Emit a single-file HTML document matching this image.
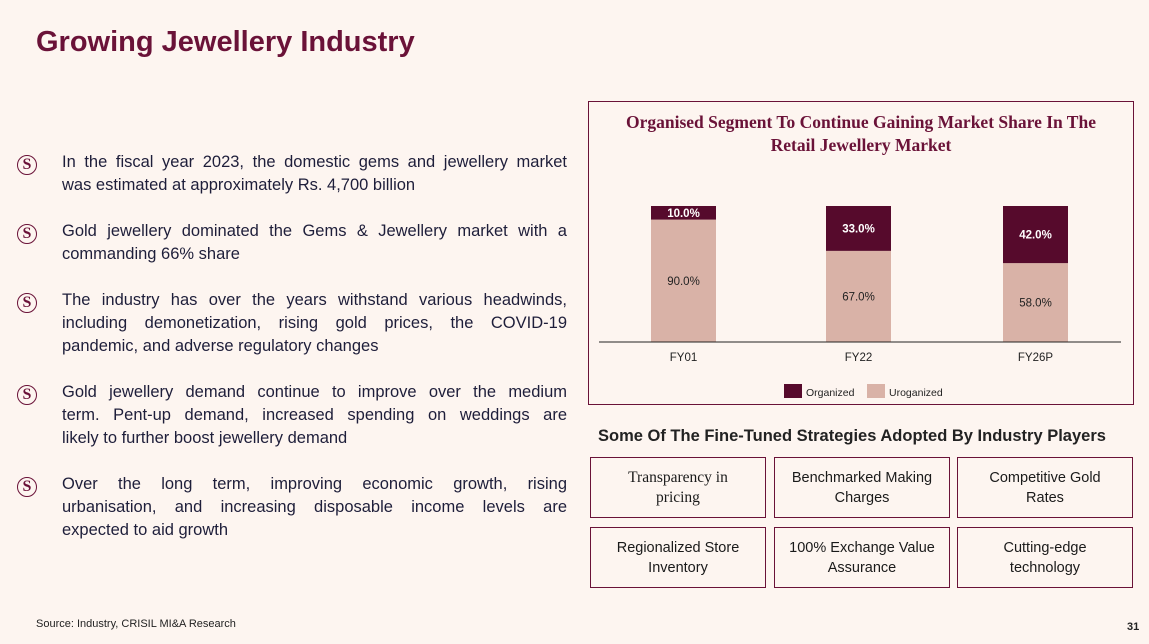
<!DOCTYPE html>
<html><head><meta charset="utf-8"><style>
body{margin:0;width:1149px;height:644px;background:#fdf5f0;font-family:"Liberation Sans",sans-serif;position:relative;overflow:hidden}
.abs{position:absolute}
h1{position:absolute;left:36px;top:26px;margin:0;font-size:29px;font-weight:bold;color:#6a1238;letter-spacing:0px}
.bullet{position:absolute;left:17px;width:550px}
.icon{position:absolute;left:0;top:0;width:20px;height:20px;border:1.5px solid #6a1238;border-radius:50%;box-sizing:border-box;color:#6a1238;font-family:"Liberation Serif",serif;font-weight:bold;font-size:16px;line-height:18px;text-align:center}
.btext{margin-left:45px;font-size:16.5px;line-height:23px;color:#1e1e3a}
.btext span{display:block;text-align:justify;text-align-last:justify;white-space:nowrap}
.btext span.l{text-align-last:left}
.box{position:absolute;width:176px;height:61px;border:1.5px solid #6a1238;box-sizing:border-box;display:flex;align-items:center;justify-content:center;text-align:center;font-size:14.5px;line-height:20px;color:#1a1a1a}
</style></head><body>
<h1>Growing Jewellery Industry</h1>

<div class="bullet" style="top:151px"><div class="icon" style="top:4px">S</div><div class="btext"><span>In the fiscal year 2023, the domestic gems and jewellery market</span><span class="l">was estimated at approximately Rs. 4,700 billion</span></div></div>
<div class="bullet" style="top:220px"><div class="icon" style="top:4px">S</div><div class="btext"><span>Gold jewellery dominated the Gems &amp; Jewellery market with a</span><span class="l">commanding 66% share</span></div></div>
<div class="bullet" style="top:289px"><div class="icon" style="top:4px">S</div><div class="btext"><span>The industry has over the years withstand various headwinds,</span><span>including demonetization, rising gold prices, the COVID-19</span><span class="l">pandemic, and adverse regulatory changes</span></div></div>
<div class="bullet" style="top:381px"><div class="icon" style="top:4px">S</div><div class="btext"><span>Gold jewellery demand continue to improve over the medium</span><span>term. Pent-up demand, increased spending on weddings are</span><span class="l">likely to further boost jewellery demand</span></div></div>
<div class="bullet" style="top:473px"><div class="icon" style="top:4px">S</div><div class="btext"><span>Over the long term, improving economic growth, rising</span><span>urbanisation, and increasing disposable income levels are</span><span class="l">expected to aid growth</span></div></div>

<div class="abs" style="left:588px;top:101px;width:546px;height:304px;border:1.5px solid #6a1238;box-sizing:border-box"></div>
<div class="abs" style="left:600px;top:111px;width:522px;text-align:center;font-family:'Liberation Serif',serif;font-weight:bold;font-size:17.5px;line-height:23px;color:#6a1238">Organised Segment To Continue Gaining Market Share In The<br>Retail Jewellery Market</div>
<svg class="abs" style="left:0;top:0" width="1149" height="644" id="chart"></svg>

<div class="abs" style="left:598px;top:427px;font-size:16.5px;font-weight:bold;color:#222">Some Of The Fine-Tuned Strategies Adopted By Industry Players</div>
<div class="box" style="left:590px;top:457px;font-family:'Liberation Serif',serif;font-size:15.5px">Transparency in<br>pricing</div>
<div class="box" style="left:774px;top:457px">Benchmarked Making<br>Charges</div>
<div class="box" style="left:957px;top:457px">Competitive Gold<br>Rates</div>
<div class="box" style="left:590px;top:527px">Regionalized Store<br>Inventory</div>
<div class="box" style="left:774px;top:527px">100% Exchange Value<br>Assurance</div>
<div class="box" style="left:957px;top:527px">Cutting-edge<br>technology</div>

<div class="abs" style="left:36px;top:618px;font-size:11px;color:#222">Source: Industry, CRISIL MI&amp;A Research</div>
<div class="abs" style="left:1127px;top:621px;font-size:11px;font-weight:bold;color:#222">31</div>

<script>
const categories=["FY01","FY22","FY26P"];
const organized=[10,33,42];
const unorganized=[90,67,58];
const NS="http://www.w3.org/2000/svg";
const svg=document.getElementById("chart");
const base=342,top0=206,H=base-top0;
const y=v=>base-v/100*H;
const centers=[683.5,858.5,1035.5],bw=65;
function mk(t,a){const e=document.createElementNS(NS,t);for(const k in a)e.setAttribute(k,a[k]);svg.appendChild(e);return e;}
categories.forEach((c,i)=>{
  const x=centers[i]-bw/2;
  const u=mk("rect",{x:x,y:y(unorganized[i]),width:bw,height:base-y(unorganized[i]),fill:"#d9b2a7"});
  
  
  const tot=unorganized[i]+organized[i];
  const o=mk("rect",{x:x,y:y(tot),width:bw,height:y(unorganized[i])-y(tot),fill:"#560a2c"});
  
  
  const t1=mk("text",{x:centers[i],y:(y(tot)+y(unorganized[i]))/2+4,"text-anchor":"middle","font-size":"11.5",fill:"#fff","font-weight":"bold","font-family":"Liberation Sans, sans-serif"});
  t1.textContent=organized[i].toFixed(1)+"%";
  
  
  const t2=mk("text",{x:centers[i],y:(base+y(unorganized[i]))/2+4,"text-anchor":"middle","font-size":"11.5",fill:"#222","font-family":"Liberation Sans, sans-serif"});
  t2.textContent=unorganized[i].toFixed(1)+"%";
  
  
  const t3=mk("text",{x:centers[i],y:base+19,"text-anchor":"middle","font-size":"11.5",fill:"#222","font-family":"Liberation Sans, sans-serif"});
  t3.textContent=c;
  
  
});
const ax=mk("line",{x1:599,x2:1121,y1:base,y2:base,stroke:"#222","stroke-width":1});


const l1=mk("rect",{x:784,y:384,width:18,height:14,fill:"#560a2c"});


const lt1=mk("text",{x:806,y:396,"font-size":"10.5",fill:"#222","font-family":"Liberation Sans, sans-serif"});lt1.textContent="Organized";


const l2=mk("rect",{x:867,y:384,width:18,height:14,fill:"#d9b2a7"});


const lt2=mk("text",{x:889,y:396,"font-size":"10.5",fill:"#222","font-family":"Liberation Sans, sans-serif"});lt2.textContent="Uroganized";


</script>
</body></html>
